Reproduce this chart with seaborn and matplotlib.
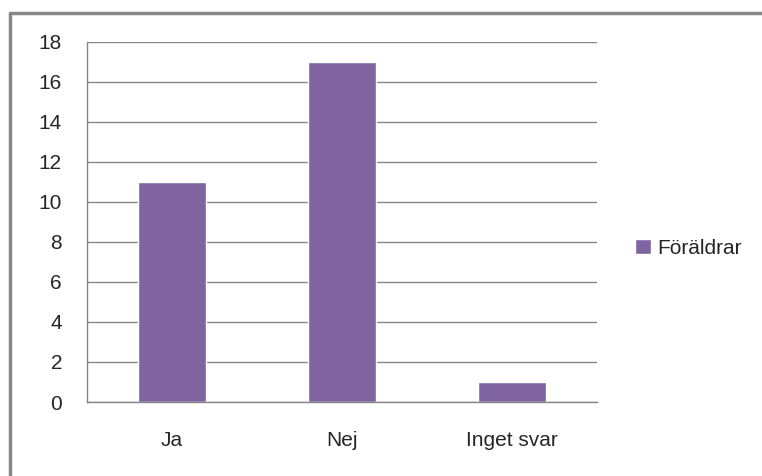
import matplotlib
matplotlib.use("Agg")
import matplotlib.pyplot as plt
import seaborn as sns
import pandas as pd
from matplotlib.lines import Line2D

# data
svar = ["Ja", "Nej", "Inget svar"]
antal = [11, 17, 1]
serie = "Föräldrar"

df = pd.DataFrame({"svar": svar, "antal": antal})

sns.set_style("white")
plt.rcParams["font.family"] = ["Liberation Sans", "DejaVu Sans"]

fig = plt.figure(figsize=(7.62, 4.76), dpi=100)
ax = fig.add_axes([87 / 762, 1 - 402 / 476, 510 / 762, (402 - 41.7) / 476])

sns.barplot(data=df, x="svar", y="antal", color="#8064A2", width=0.405,
            saturation=1, label=serie, ax=ax)

ax.set_ylim(0, 18)
ax.set_xlim(-0.5, 2.5)
ax.set_yticks(range(0, 19, 2))
ax.yaxis.grid(True, color="#868686", linewidth=1)
ax.set_axisbelow(True)
ax.set_xlabel("")
ax.set_ylabel("")

for s in ["top", "right"]:
    ax.spines[s].set_visible(False)
for s in ["left", "bottom"]:
    ax.spines[s].set_color("#868686")
    ax.spines[s].set_linewidth(1)

# y ticks outside, x ticks on category boundaries
ax.tick_params(axis="y", length=10, color="#868686", width=1, labelsize=15, pad=8)
ax.tick_params(axis="x", which="major", length=0, labelsize=15, pad=21)
ax.set_xticks([-0.5, 0.5, 1.5, 2.5], minor=True)
ax.tick_params(axis="x", which="minor", length=8, color="#868686", width=1)

leg = ax.legend(loc="center left", bbox_to_anchor=(635 / 762, 1 - 248 / 476),
                bbox_transform=fig.transFigure, frameon=False, fontsize=15,
                handlelength=0.75, handleheight=0.7, handletextpad=0.3,
                borderpad=0, borderaxespad=0)

# outer border (top and left visible)
fig.add_artist(Line2D([10 / 762, 1], [1 - 13 / 476, 1 - 13 / 476],
                      transform=fig.transFigure, color="#888888", linewidth=2.5))
fig.add_artist(Line2D([10 / 762, 10 / 762], [0, 1 - 13 / 476],
                      transform=fig.transFigure, color="#888888", linewidth=2.5))

fig.savefig("out.png", dpi=100)
